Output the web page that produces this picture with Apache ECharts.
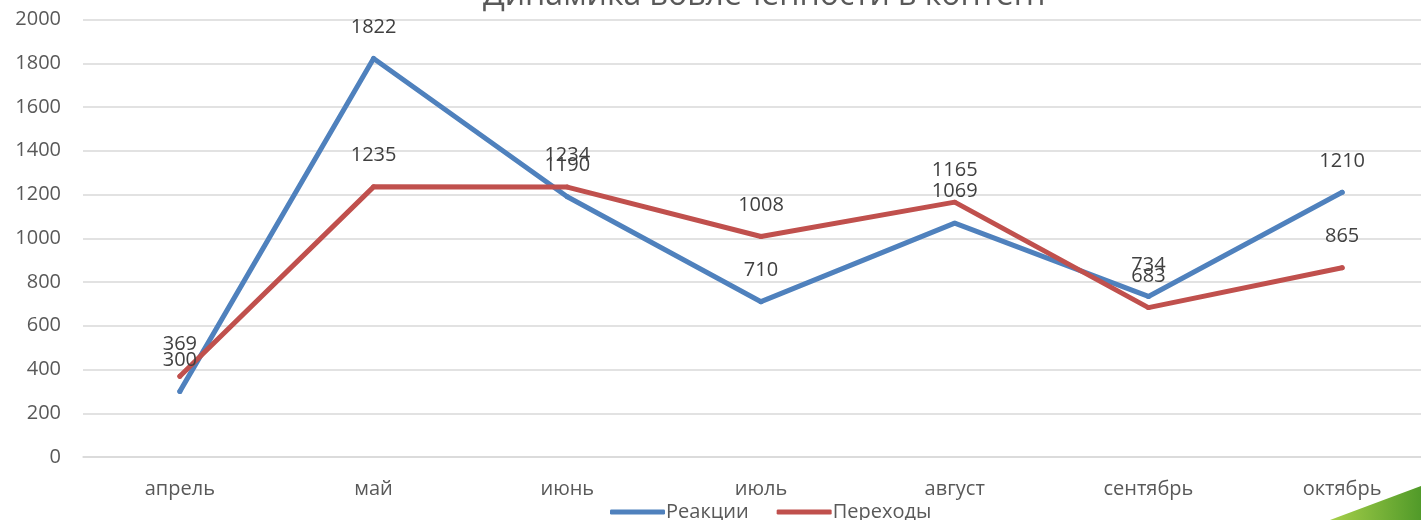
<!DOCTYPE html>
<html>
<head>
<meta charset="utf-8">
<script src="https://cdn.jsdelivr.net/npm/echarts@6/dist/echarts.min.js"></script>
<style>
html,body{margin:0;padding:0;background:#fff;overflow:hidden;}
#chart{width:1440px;height:520px;}
</style>
</head>
<body>
<div id="chart"></div>
<script>
const titleText = 'Динамика вовлеченности в контент';
const categories = ['апрель', 'май', 'июнь', 'июль', 'август', 'сентябрь', 'октябрь'];
const reactions = [300, 1822, 1190, 710, 1069, 734, 1210];
const transitions = [369, 1235, 1234, 1008, 1165, 683, 865];
const seriesNames = ['Реакции', 'Переходы'];

const FONT = 'Open Sans';
const chart = echarts.init(document.getElementById('chart'));

function lineSeries(name, data, color) {
  return {
    name: name,
    type: 'line',
    data: data,
    symbol: 'circle',
    symbolSize: 5,
    showSymbol: true,
    itemStyle: { color: color },
    lineStyle: { color: color, width: 5, cap: 'round', join: 'round' },
    label: {
      show: true,
      position: 'top',
      distance: 19,
      color: '#404040',
      fontFamily: FONT,
      fontSize: 20
    },
    emphasis: { disabled: true },
    animation: false
  };
}

chart.setOption({
  backgroundColor: '#ffffff',
  animation: false,
  grid: { left: 83, right: 1, top: 19.5, bottom: 63, containLabel: false },
  legend: {
    data: [
      { name: seriesNames[0], icon: 'roundRect' },
      { name: seriesNames[1], icon: 'roundRect' }
    ],
    left: 605,
    top: 497,
    itemWidth: 55,
    itemHeight: 5,
    itemGap: 28,
    textStyle: { color: '#595959', fontFamily: FONT, fontSize: 20, padding: [0, 0, 0, -4] },
    selectedMode: false
  },
  xAxis: {
    type: 'category',
    data: categories,
    boundaryGap: true,
    axisLine: { show: true, lineStyle: { color: '#d9d9d9', width: 1.5 } },
    axisTick: { show: false },
    axisLabel: { color: '#595959', fontFamily: FONT, fontSize: 20, margin: 22 }
  },
  yAxis: {
    type: 'value',
    min: 0,
    max: 2000,
    interval: 200,
    axisLine: { show: false },
    axisTick: { show: false },
    axisLabel: { color: '#595959', fontFamily: FONT, fontSize: 20, margin: 22, formatter: function (v) { return String(v); } },
    splitLine: { lineStyle: { color: '#d9d9d9', width: 1.5 } }
  },
  series: [
    lineSeries(seriesNames[0], reactions, '#4F81BD'),
    lineSeries(seriesNames[1], transitions, '#C0504D')
  ],
  graphic: [
    {
      type: 'text',
      style: {
        text: titleText,
        x: 766,
        y: -4,
        align: 'center',
        verticalAlign: 'middle',
        fill: '#595959',
        font: '32px "Open Sans"'
      },
      z: 10
    },
    {
      type: 'polygon',
      shape: { points: [[1330, 520], [1421, 486], [1440, 480], [1440, 520]] },
      style: {
        fill: new echarts.graphic.LinearGradient(0, 0, 1, 0, [
          { offset: 0, color: '#a6cf4a' },
          { offset: 1, color: '#3f8f22' }
        ])
      },
      z: 10
    }
  ]
});
</script>
</body>
</html>
